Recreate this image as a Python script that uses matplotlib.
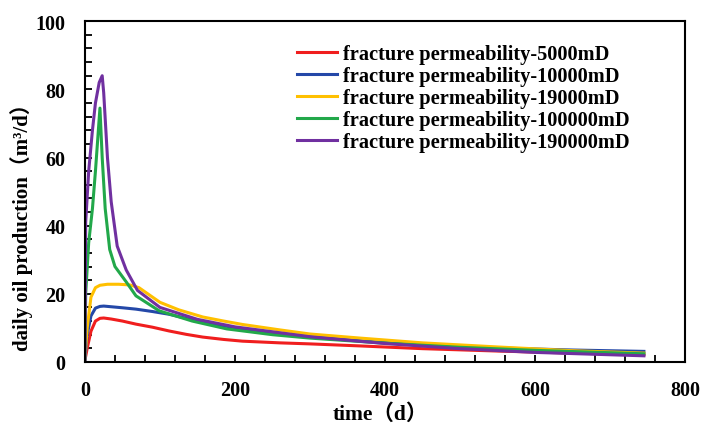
import numpy as np
import matplotlib
matplotlib.use("Agg")
import matplotlib.pyplot as plt
from matplotlib.ticker import MultipleLocator

# 字体：英文用 Times 风格，全角括号回退到 CJK
plt.rcParams['font.family'] = ['Liberation Serif', 'Noto Sans CJK SC']
plt.rcParams['font.weight'] = 'bold'

# 日产油量数据 (时间 d, 产量 m3/d)
t_5000 = [0, 3, 8, 14, 20, 25, 35, 50, 68, 90, 112, 135, 157, 185, 210, 260, 300, 367, 450, 550, 650, 745]
q_5000 = [0.5, 4, 9, 12, 12.8, 12.9, 12.6, 12.0, 11.1, 10.2, 9.1, 8.1, 7.3, 6.6, 6.1, 5.6, 5.3, 4.7, 3.9, 3.2, 2.6, 2.1]

t_10000 = [0, 3, 8, 14, 20, 25, 35, 50, 68, 90, 112, 135, 157, 185, 210, 260, 300, 367, 450, 550, 650, 745]
q_10000 = [1, 8, 13.5, 15.8, 16.3, 16.4, 16.2, 15.9, 15.5, 14.8, 14.0, 12.8, 11.7, 10.6, 9.7, 8.4, 7.4, 6.2, 5.0, 4.1, 3.5, 3.1]

t_19000 = [0, 3, 8, 14, 20, 30, 45, 60, 72, 85, 100, 125, 157, 185, 210, 260, 300, 367, 450, 550, 650, 745]
q_19000 = [1, 10, 19, 21.8, 22.5, 22.8, 22.8, 22.6, 21.8, 19.8, 17.5, 15.3, 13.2, 12.0, 11.0, 9.4, 8.2, 7.0, 5.6, 4.4, 3.3, 2.6]

t_100000 = [0, 1, 5, 10, 14, 20, 23, 27, 33, 40, 55, 68, 99, 143, 189, 250, 300, 400, 500, 600, 745]
q_100000 = [0, 20, 35, 45, 56, 74.5, 60, 45, 33, 28, 23.5, 19.4, 15.0, 12.0, 9.7, 8.0, 7.0, 5.5, 4.3, 3.4, 2.4]

t_190000 = [0, 1, 5, 10, 14, 19, 23, 25, 30, 35, 43, 55, 70, 100, 150, 200, 300, 400, 500, 600, 745]
q_190000 = [0, 41, 56, 68, 76, 82, 84, 79, 60, 47, 34, 27, 21, 16, 12.5, 10.3, 7.4, 5.4, 3.9, 2.8, 1.8]

labels = ['fracture permeability-5000mD', 'fracture permeability-10000mD',
          'fracture permeability-19000mD', 'fracture permeability-100000mD',
          'fracture permeability-190000mD']
colors = ['#f01e1e', '#2448a8', '#ffc000', '#22a84a', '#7030a0']

fig = plt.figure(figsize=(7.02, 4.27), dpi=100)
ax = fig.add_axes([0.121, 0.150, 0.855, 0.798])

series = [(t_5000, q_5000), (t_10000, q_10000), (t_19000, q_19000),
          (t_100000, q_100000), (t_190000, q_190000)]
for (t, q), c, lab in zip(series, colors, labels):
    ax.plot(t, q, color=c, lw=2.2, label=lab, solid_joinstyle='round')

ax.set_xlim(0, 800)
ax.set_ylim(0, 100)
ax.xaxis.set_major_locator(MultipleLocator(200))
ax.xaxis.set_minor_locator(MultipleLocator(40))
ax.yaxis.set_major_locator(MultipleLocator(20))
ax.yaxis.set_minor_locator(MultipleLocator(4))
ax.tick_params(which='both', direction='in', labelsize=14.5, width=1.3)
ax.tick_params(which='major', length=5)
ax.tick_params(which='minor', length=5)
ax.tick_params(axis='x', pad=13)
ax.tick_params(axis='y', pad=14)
for s in ax.spines.values():
    s.set_linewidth(1.5)

ax.set_xlabel('time（d）', fontsize=15.5, fontweight='bold')
ax.xaxis.set_label_coords(0.493, -0.122)
ax.set_ylabel('daily oil production（m³/d）', fontsize=15, fontweight='bold')
ax.yaxis.set_label_coords(-0.087, 0.413)

leg = ax.legend(loc='upper left', bbox_to_anchor=(0.323, 0.988), frameon=False,
                handlelength=1.95, handletextpad=0.3, labelspacing=0.1,
                prop={'weight': 'bold', 'size': 14.7})

fig.savefig('out.png', dpi=100)
